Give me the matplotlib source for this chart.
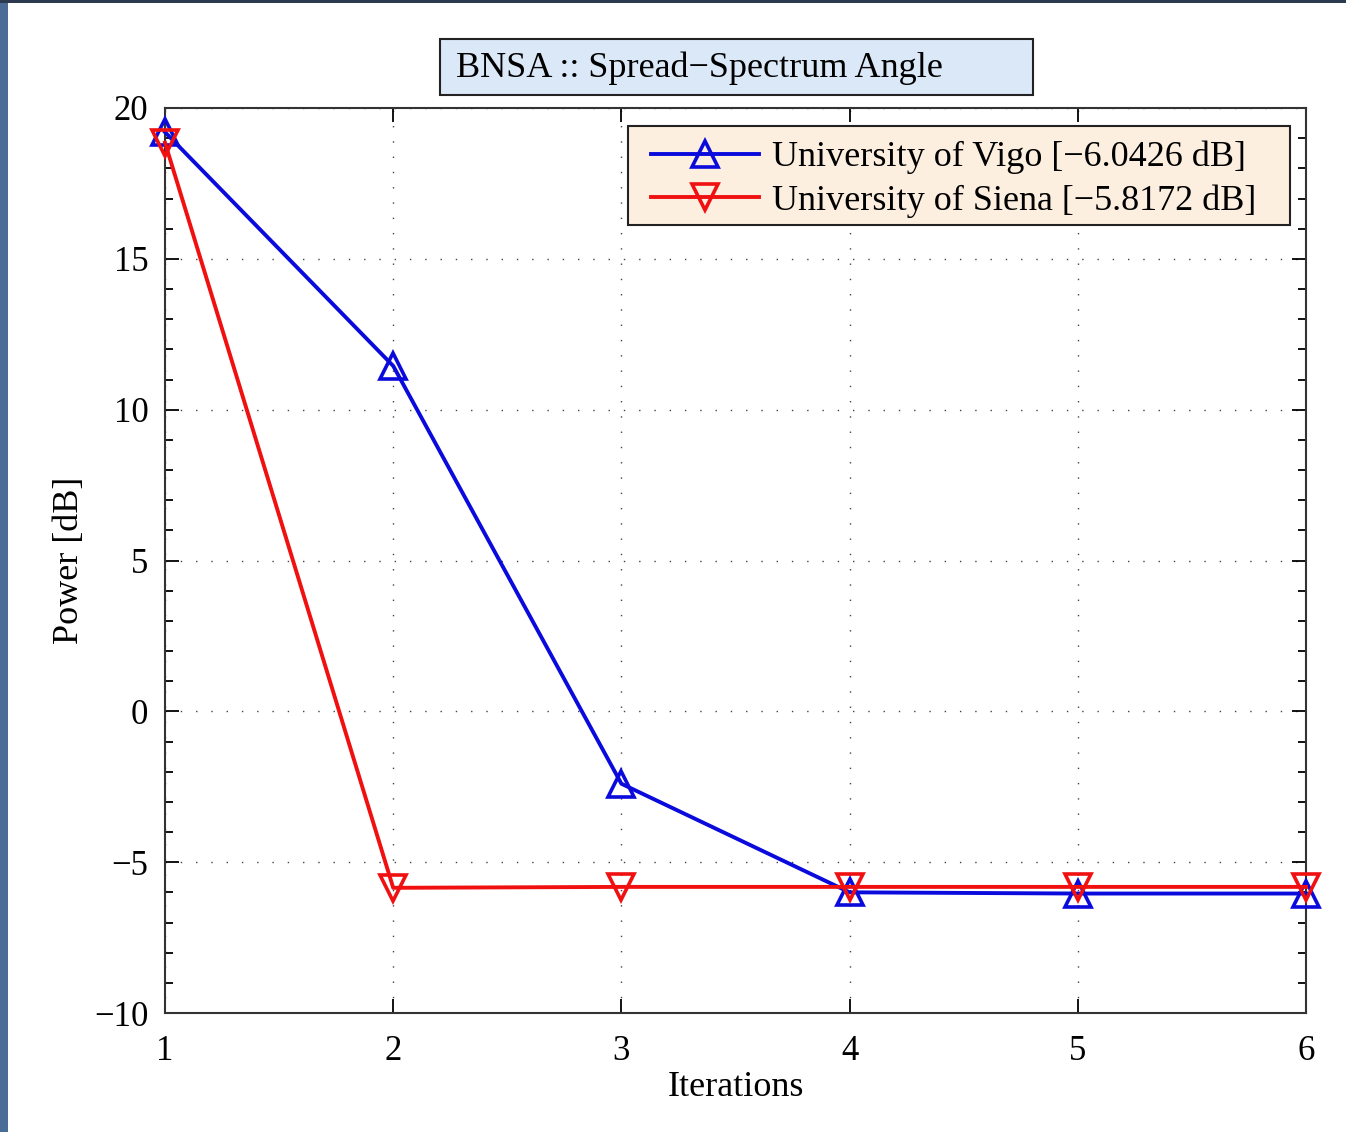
import matplotlib
matplotlib.use("Agg")
import matplotlib.pyplot as plt
from matplotlib import patches as mpatches
from matplotlib.ticker import MultipleLocator

iterations = [1, 2, 3, 4, 5, 6]
vigo = [19.2, 11.45, -2.4, -6.0, -6.04, -6.04]
siena = [18.85, -5.85, -5.82, -5.82, -5.82, -5.82]
vigo_label = "University of Vigo [\u22126.0426 dB]"
siena_label = "University of Siena [\u22125.8172 dB]"
title = "BNSA :: Spread\u2212Spectrum Angle"

W, H = 1346, 1132
plt.rcParams['font.family'] = ['Liberation Serif', 'DejaVu Serif']
plt.rcParams['axes.unicode_minus'] = True

fig = plt.figure(figsize=(W / 100, H / 100), dpi=100)
ax = fig.add_axes([165 / W, 1 - 1013 / H, (1306 - 165) / W, (1013 - 108) / H])

# frame decoration of the original screenshot
fig.patches.append(mpatches.Rectangle((0, 0), 8 / W, 1, transform=fig.transFigure,
                                      facecolor='#4a6c96', edgecolor='none'))
fig.patches.append(mpatches.Rectangle((0, 1 - 3 / H), 1, 3 / H, transform=fig.transFigure,
                                      facecolor='#2b3a4e', edgecolor='none'))

ax.plot(iterations, vigo, color='#0a0adc', lw=2.8, marker='^', ms=19,
        mfc='none', mew=2.6, label=vigo_label, clip_on=False, zorder=3)
ax.plot(iterations, siena, color='#f01010', lw=2.8, marker='v', ms=19,
        mfc='none', mew=2.6, label=siena_label, clip_on=False, zorder=4)

ax.set_xlim(1, 6)
ax.set_ylim(-10, 20)
ax.xaxis.set_major_locator(MultipleLocator(1))
ax.yaxis.set_major_locator(MultipleLocator(5))
ax.yaxis.set_minor_locator(MultipleLocator(1))
ax.tick_params(which='both', direction='in', top=True, right=True, labelsize=25, width=1.3)
ax.tick_params(which='major', length=10)
ax.tick_params(which='minor', length=6)
ax.tick_params(axis='x', pad=16)
ax.tick_params(axis='y', pad=12)
ax.grid(True, which='major', linestyle=(0, (1, 10)), color='#444444', lw=1)
for s in ax.spines.values():
    s.set_linewidth(1.5)
    s.set_color('#333333')

ax.set_xlabel("Iterations", fontsize=26, labelpad=2)
ax.set_ylabel("Power [dB]", fontsize=26, labelpad=6)

# MATLAB-style legend box, wider than its content
legbox = mpatches.Rectangle((628 / W, 1 - 225 / H), (1290 - 628) / W, (225 - 126) / H,
                            transform=fig.transFigure, facecolor='#fdefdf',
                            edgecolor='#222222', lw=1.5, zorder=6)
ax.add_artist(legbox)
leg = ax.legend(loc='upper left', fontsize=26, handlelength=3.0, borderpad=0,
                labelspacing=0.28, handletextpad=0.35, borderaxespad=0,
                frameon=False, bbox_to_anchor=((651 - 165) / 1141, 1 - (141 - 108) / 905))
leg.set_zorder(7)

fig.patches.append(mpatches.Rectangle((440 / W, 1 - 95 / H), (1033 - 440) / W, 56 / H,
                                      transform=fig.transFigure, facecolor='#dbe8f8',
                                      edgecolor='#222222', lw=1.5))
fig.text(456 / W, 1 - 68 / H, title, fontsize=26, ha='left', va='center')

fig.savefig("out.png", dpi=100)
